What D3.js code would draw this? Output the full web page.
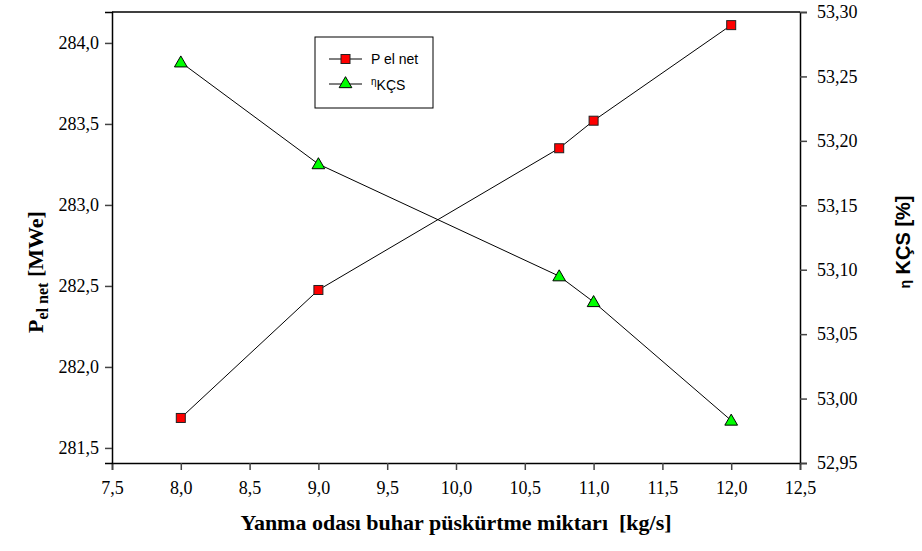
<!DOCTYPE html>
<html><head><meta charset="utf-8">
<script src="https://cdn.jsdelivr.net/npm/d3@7/dist/d3.min.js"></script>
<style>body{margin:0;background:#fff}
.tk text{font-family:'Liberation Serif','Times New Roman',serif !important;font-size:18px !important;}
</style>
</head><body>
<svg id="c" width="922" height="551"></svg>
<script>
const xValues = [8.0, 9.0, 10.75, 11.0, 12.0];
const pElNet = [281.685, 282.475, 283.35, 283.52, 284.11];
const etaKCS = [53.261, 53.182, 53.095, 53.075, 52.983];
const xTicks = [7.5, 8.0, 8.5, 9.0, 9.5, 10.0, 10.5, 11.0, 11.5, 12.0, 12.5];
const leftTicks = [281.5, 282.0, 282.5, 283.0, 283.5, 284.0];
const rightTicks = [52.95, 53.00, 53.05, 53.10, 53.15, 53.20, 53.25, 53.30];

const svg = d3.select("#c");
const L = 112, R = 800, T = 12, B = 463;
const x = d3.scaleLinear().domain([7.5, 12.5]).range([L, R]);
const yL = d3.scaleLinear().domain([281.407, 284.191]).range([B, T]);
const yR = d3.scaleLinear().domain([52.95, 53.30]).range([B, T]);
const fmt1 = d => d.toFixed(1).replace(".", ",");
const fmt2 = d => d.toFixed(2).replace(".", ",");
const serif = "'Liberation Serif','Times New Roman',serif";
const sans = "'Liberation Sans',Arial,sans-serif";

function styleAxis(g){
  g.attr("class","tk").attr("font-family",serif).attr("font-size",18);
  g.selectAll(".domain").attr("stroke","#000").attr("stroke-width",1.5);
  g.selectAll(".tick line").attr("stroke","#444").attr("stroke-width",1.5);
  g.selectAll(".tick text").attr("fill","#000");
}
const gx = svg.append("g").attr("transform",`translate(0,${B})`)
  .call(d3.axisBottom(x).tickValues(xTicks).tickFormat(fmt1).tickSizeOuter(0).tickSize(7).tickPadding(11));
styleAxis(gx);
const gl = svg.append("g").attr("transform",`translate(${L},0)`)
  .call(d3.axisLeft(yL).tickValues(leftTicks).tickFormat(fmt1).tickSizeOuter(0).tickSize(7).tickPadding(6));
styleAxis(gl);
const gr = svg.append("g").attr("transform",`translate(${R},0)`)
  .call(d3.axisRight(yR).tickValues(rightTicks).tickFormat(fmt2).tickSizeOuter(0).tickSize(7).tickPadding(10));
styleAxis(gr);
svg.append("line").attr("x1",L).attr("x2",R).attr("y1",T).attr("y2",T).attr("stroke","#000").attr("stroke-width",1.5);

const dataP = xValues.map((v,i)=>[v,pElNet[i]]);
const dataE = xValues.map((v,i)=>[v,etaKCS[i]]);
svg.append("path").datum(dataP).attr("fill","none").attr("stroke","#000").attr("stroke-width",1)
  .attr("d", d3.line().x(d=>x(d[0])).y(d=>yL(d[1])));
svg.append("path").datum(dataE).attr("fill","none").attr("stroke","#000").attr("stroke-width",1)
  .attr("d", d3.line().x(d=>x(d[0])).y(d=>yR(d[1])));

const tri = d3.symbol().type(d3.symbolTriangle).size(70);
svg.selectAll(".tri").data(dataE).enter().append("path")
  .attr("transform", d=>`translate(${x(d[0])},${yR(d[1])+1})`)
  .attr("d", tri).attr("fill","#00ff00").attr("stroke","#000").attr("stroke-width",1);
svg.selectAll(".sq").data(dataP).enter().append("rect")
  .attr("x", d=>x(d[0])-4.5).attr("y", d=>yL(d[1])-4.5).attr("width",9).attr("height",9)
  .attr("fill","#ff0000").attr("stroke","#222").attr("stroke-width",1);

// legend
const lg = svg.append("g");
lg.append("rect").attr("x",315).attr("y",37).attr("width",118).attr("height",71)
  .attr("fill","#fff").attr("stroke","#000").attr("stroke-width",1);
lg.append("line").attr("x1",329).attr("x2",362).attr("y1",59).attr("y2",59).attr("stroke","#000");
lg.append("rect").attr("x",341).attr("y",54.5).attr("width",9).attr("height",9).attr("fill","#ff0000").attr("stroke","#222");
lg.append("text").attr("x",371).attr("y",64).attr("font-family",sans).attr("font-size",14).text("P el net");
lg.append("line").attr("x1",329).attr("x2",362).attr("y1",84).attr("y2",84).attr("stroke","#000");
lg.append("path").attr("transform","translate(345.5,84)").attr("d",tri).attr("fill","#00ff00").attr("stroke","#000");
const t2 = lg.append("text").attr("x",371).attr("y",90).attr("font-family",sans).attr("font-size",14);
t2.append("tspan").attr("font-size",10).attr("dy",-5).text("η");
t2.append("tspan").attr("dy",5).text("KÇS");

// axis titles
const lt = svg.append("text").attr("transform","translate(43,272) rotate(-90)")
  .attr("text-anchor","middle").attr("font-family",serif).attr("font-weight","bold").attr("font-size",22);
lt.append("tspan").text("P");
lt.append("tspan").attr("font-size",16).attr("dy",5).text("el net");
lt.append("tspan").attr("dy",-5).text(" [MWe]");

const rt = svg.append("text").attr("transform","translate(910,242) rotate(-90)")
  .attr("text-anchor","middle").attr("font-family",sans).attr("font-weight","bold").attr("font-size",20);
rt.append("tspan").attr("font-size",14).text("η");
rt.append("tspan").text(" KÇS [%]");

svg.append("text").attr("x",456).attr("y",530).attr("text-anchor","middle")
  .attr("font-family",serif).attr("font-weight","bold").attr("font-size",22)
  .text("Yanma odası buhar püskürtme miktarı\u00A0\u00A0[kg/s]");
</script>
</body></html>
